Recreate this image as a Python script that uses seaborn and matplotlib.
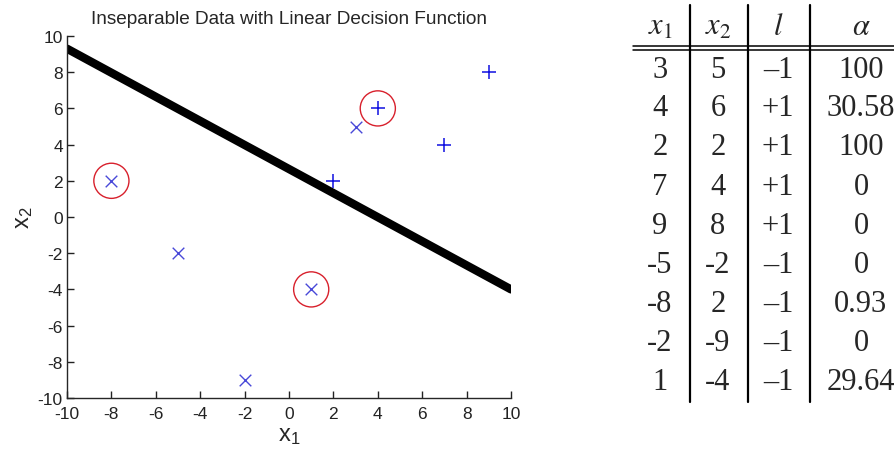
import numpy as np
import pandas as pd
import matplotlib
matplotlib.use("Agg")
import matplotlib.pyplot as plt
import seaborn as sns

# Training points, labels and Lagrange multipliers
x1 = [3, 4, 2, 7, 9, -5, -8, -2, 1]
x2 = [5, 6, 2, 4, 8, -2, 2, -9, -4]
label = [-1, 1, 1, 1, 1, -1, -1, -1, -1]
alpha = [100, 30.58, 100, 0, 0, 0, 0.93, 0, 29.64]
alpha_text = ["100", "30.58", "100", "0", "0", "0", "0.93", "0", "29.64"]
C = 100

# Decision boundary end points across the plotted range
boundary_x = [-10, 10]
boundary_y = [9.3, -4.0]

x_ticks = list(range(-10, 11, 2))
y_ticks = list(range(-10, 11, 2))

df = pd.DataFrame({"x1": x1, "x2": x2, "label": label, "alpha": alpha})
df["margin_sv"] = (df["alpha"] > 0) & (df["alpha"] < C)
line_df = pd.DataFrame({"x": boundary_x, "y": boundary_y})

sns.set_style("ticks")
plt.rcParams["font.family"] = ["Liberation Sans", "DejaVu Sans"]
plt.rcParams["axes.unicode_minus"] = False
plt.rcParams["mathtext.fontset"] = "custom"
plt.rcParams["mathtext.rm"] = "Liberation Sans"
plt.rcParams["mathtext.it"] = "Liberation Sans"

fig = plt.figure(figsize=(8.95, 4.52), dpi=100)
ax = fig.add_axes([67 / 895, 1 - 399 / 452, (511 - 67) / 895, (399 - 37) / 452])

sns.lineplot(data=line_df, x="x", y="y", ax=ax, color="black", linewidth=6,
             solid_capstyle="round", zorder=2)

pos = df[df["label"] == 1]
neg = df[df["label"] == -1]
sns.scatterplot(data=pos, x="x1", y="x2", ax=ax, marker="+", s=110,
                color="#1010e0", linewidth=1.1, zorder=3)
sns.scatterplot(data=neg, x="x1", y="x2", ax=ax, marker="x", s=70,
                color="#4848d8", linewidth=1.0, zorder=3)
sv = df[df["margin_sv"]]
sns.scatterplot(data=sv, x="x1", y="x2", ax=ax, marker="o", s=640,
                facecolor="none", edgecolor="#d8202c", linewidth=1.0, zorder=3)

ax.set_xlim(-10, 10)
ax.set_ylim(-10, 10)
ax.set_xticks(x_ticks)
ax.set_yticks(y_ticks)
ax.tick_params(direction="in", length=5, width=1, labelsize=12.5, colors="#222222")
ax.tick_params(axis="x", pad=6)
ax.tick_params(axis="y", pad=3)
for side in ("top", "right"):
    ax.spines[side].set_visible(False)
for side in ("left", "bottom"):
    ax.spines[side].set_linewidth(1.0)
ax.set_xlabel(r"$\mathrm{x}_1$", fontsize=17, labelpad=2)
ax.set_ylabel(r"$\mathrm{x}_2$", fontsize=17, labelpad=2)
ax.set_title("Inseparable Data with Linear Decision Function", fontsize=13.7, pad=9)

# Multiplier table drawn in pixel coordinates
tab = fig.add_axes([0, 0, 1, 1])
tab.set_xlim(0, 895)
tab.set_ylim(452, 0)
tab.axis("off")

serif = ["Liberation Serif", "DejaVu Serif"]
col_x = [660, 718, 778, 861]
row_y = [70, 109, 148, 188, 227, 266, 305, 344, 383]
fs = 22

headers = [r"$x_{\mathit{1}}$", r"$x_{\mathit{2}}$", r"$l$", r"$\alpha$"]
for cx, h in zip(col_x, headers):
    tab.text(cx, 27, h, ha="center", va="center", fontsize=fs,
             math_fontfamily="stix")

def fmt_label(v):
    return "+1" if v > 0 else "\u20131"

for i in range(len(x1)):
    vals = [str(x1[i]), str(x2[i]), fmt_label(label[i]), alpha_text[i]]
    for cx, v in zip(col_x, vals):
        tab.text(cx, row_y[i], v, ha="center", va="center", fontsize=fs,
                 family=serif)

for vx in (690, 748, 810):
    tab.plot([vx, vx], [6, 403], color="black", linewidth=1.6)
for hy in (46.5, 50.5):
    tab.plot([633, 895], [hy, hy], color="black", linewidth=1.1)

fig.savefig("out.png", dpi=100)
